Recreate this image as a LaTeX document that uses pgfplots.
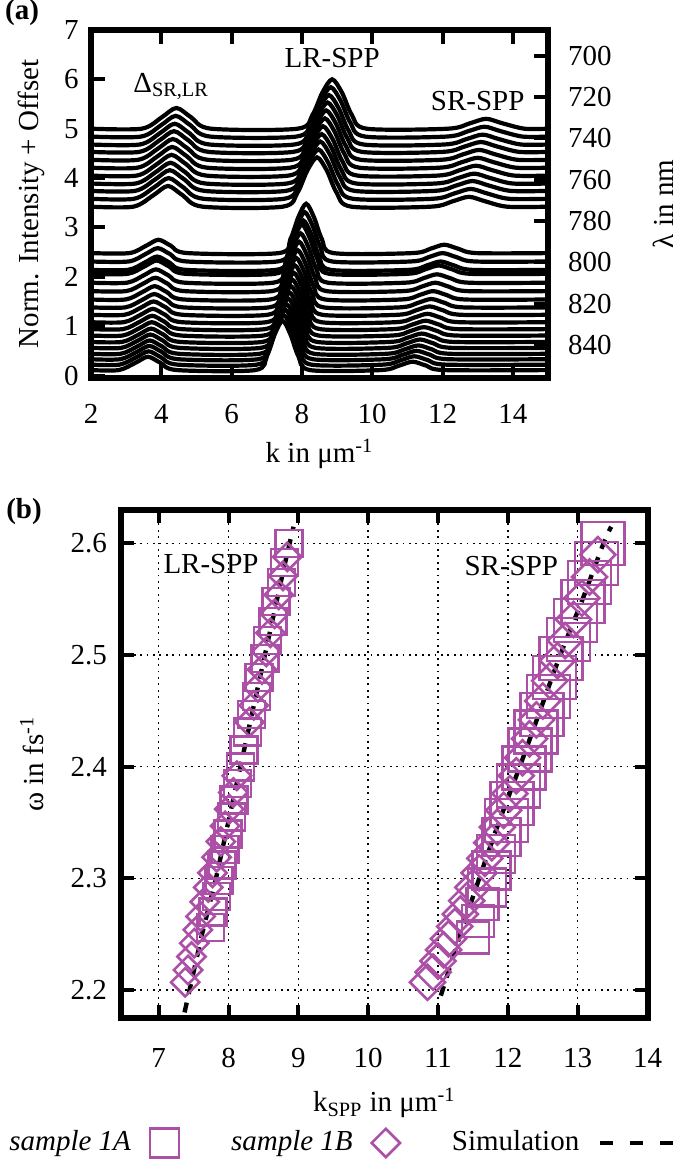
\documentclass[border=0pt]{standalone}
\usepackage{pgfplots}
\pgfplotsset{compat=1.18}
\usepackage{fontspec}
\setmainfont{Liberation Serif}
\definecolor{mpurple}{RGB}{172,79,166}
\pgfplotsset{
  curve/.style={black, line width=2.1pt, smooth},
  simlegend/.style={legend image code/.code={\draw[##1] (0pt,0pt) -- (36.5pt,0pt);}},
  markleg/.style={legend image code/.code={\draw[##1] plot coordinates {(0pt,0pt)};}},
}
\begin{document}
\fontsize{14.5}{17}\selectfont
\begin{tikzpicture}[font=\fontsize{14.5}{17}\selectfont]
\path[use as bounding box] (0,0) rectangle (342.5pt,579.5pt);
\node[font=\fontsize{14.5}{17}\selectfont\bfseries] at (11pt,573pt) {(a)};
\node[font=\fontsize{14.5}{17}\selectfont\bfseries] at (12pt,323.5pt) {(b)};
% ---------------- panel (a) ----------------
\begin{axis}[
  at={(45.5pt,390.5pt)}, anchor=south west,
  scale only axis, width=228.5pt, height=174pt,
  xmin=2, xmax=15, ymin=-0.05, ymax=7,
  axis on top,
  axis line style={line width=3pt},
  xtick={2,4,...,14}, ytick={0,1,...,7},
  xtick pos=both, ytick pos=left,
  tick align=inside, major tick length=7pt,
  tick style={black, line width=2pt},
  /pgf/number format/assume math mode=true,
  xticklabel shift=8pt, yticklabel shift=1.2pt,
  xlabel={k in μm\textsuperscript{-1}},
  ylabel={Norm. Intensity + Offset},
  every axis x label/.style={at={(axis description cs:0.5,0)}, anchor=center, yshift=-38pt},
  every axis y label/.style={at={(axis description cs:0,0.5)}, xshift=-30pt, rotate=90, anchor=center},
]
% upper group
\addplot[curve] coordinates {(2,5.00) (3.44,5.00) (4.01,5.23) (4.43,5.42) (4.85,5.23) (5.42,5.00) (7.88,5.00) (8.30,5.28) (8.58,5.73) (8.86,6.00) (9.14,5.73) (9.42,5.28) (9.84,5.00) (12.15,5.00) (12.78,5.11) (13.24,5.20) (13.70,5.11) (14.33,5.00) (15,5.00)};
\addplot[curve] coordinates {(2,4.84) (3.42,4.84) (3.99,5.07) (4.41,5.26) (4.83,5.07) (5.40,4.84) (7.84,4.84) (8.26,5.12) (8.54,5.57) (8.82,5.84) (9.10,5.57) (9.38,5.12) (9.80,4.84) (12.10,4.84) (12.73,4.95) (13.19,5.04) (13.65,4.95) (14.28,4.84) (15,4.84)};
\addplot[curve] coordinates {(2,4.68) (3.39,4.68) (3.96,4.91) (4.38,5.10) (4.80,4.91) (5.37,4.68) (7.79,4.68) (8.21,4.96) (8.49,5.41) (8.77,5.68) (9.05,5.41) (9.33,4.96) (9.75,4.68) (12.05,4.68) (12.68,4.79) (13.14,4.88) (13.60,4.79) (14.23,4.68) (15,4.68)};
\addplot[curve] coordinates {(2,4.53) (3.37,4.53) (3.94,4.76) (4.36,4.95) (4.78,4.76) (5.35,4.53) (7.75,4.53) (8.17,4.81) (8.45,5.26) (8.73,5.53) (9.01,5.26) (9.29,4.81) (9.71,4.53) (12.00,4.53) (12.63,4.64) (13.09,4.73) (13.55,4.64) (14.18,4.53) (15,4.53)};
\addplot[curve] coordinates {(2,4.37) (3.34,4.37) (3.91,4.60) (4.33,4.79) (4.75,4.60) (5.32,4.37) (7.71,4.37) (8.13,4.65) (8.41,5.10) (8.69,5.37) (8.97,5.10) (9.25,4.65) (9.67,4.37) (11.95,4.37) (12.58,4.48) (13.04,4.57) (13.50,4.48) (14.13,4.37) (15,4.37)};
\addplot[curve] coordinates {(2,4.21) (3.32,4.21) (3.89,4.44) (4.31,4.63) (4.73,4.44) (5.30,4.21) (7.67,4.21) (8.09,4.49) (8.37,4.94) (8.65,5.21) (8.93,4.94) (9.21,4.49) (9.63,4.21) (11.91,4.21) (12.54,4.32) (13.00,4.41) (13.46,4.32) (14.09,4.21) (15,4.21)};
\addplot[curve] coordinates {(2,4.05) (3.30,4.05) (3.87,4.28) (4.29,4.47) (4.71,4.28) (5.28,4.05) (7.62,4.05) (8.04,4.33) (8.32,4.78) (8.60,5.05) (8.88,4.78) (9.16,4.33) (9.58,4.05) (11.86,4.05) (12.49,4.16) (12.95,4.25) (13.41,4.16) (14.04,4.05) (15,4.05)};
\addplot[curve] coordinates {(2,3.89) (3.27,3.89) (3.84,4.12) (4.26,4.31) (4.68,4.12) (5.25,3.89) (7.58,3.89) (8.00,4.17) (8.28,4.62) (8.56,4.89) (8.84,4.62) (9.12,4.17) (9.54,3.89) (11.81,3.89) (12.44,4.00) (12.90,4.09) (13.36,4.00) (13.99,3.89) (15,3.89)};
\addplot[curve] coordinates {(2,3.74) (3.25,3.74) (3.82,3.97) (4.24,4.16) (4.66,3.97) (5.23,3.74) (7.54,3.74) (7.96,4.02) (8.24,4.47) (8.52,4.74) (8.80,4.47) (9.08,4.02) (9.50,3.74) (11.76,3.74) (12.39,3.85) (12.85,3.94) (13.31,3.85) (13.94,3.74) (15,3.74)};
\addplot[curve] coordinates {(2,3.58) (3.22,3.58) (3.79,3.81) (4.21,4.00) (4.63,3.81) (5.20,3.58) (7.49,3.58) (7.91,3.86) (8.19,4.31) (8.47,4.58) (8.75,4.31) (9.03,3.86) (9.45,3.58) (11.71,3.58) (12.34,3.69) (12.80,3.78) (13.26,3.69) (13.89,3.58) (15,3.58)};
\addplot[curve] coordinates {(2,3.42) (3.20,3.42) (3.77,3.65) (4.19,3.84) (4.61,3.65) (5.18,3.42) (7.45,3.42) (7.87,3.70) (8.15,4.15) (8.43,4.42) (8.71,4.15) (8.99,3.70) (9.41,3.42) (11.66,3.42) (12.29,3.53) (12.75,3.62) (13.21,3.53) (13.84,3.42) (15,3.42)};
% lower group
\addplot[curve] coordinates {(2,2.48) (3.09,2.48) (3.57,2.63) (3.92,2.75) (4.27,2.63) (4.75,2.48) (7.34,2.48) (7.67,2.76) (7.90,3.21) (8.12,3.48) (8.34,3.21) (8.57,2.76) (8.90,2.48) (11.14,2.48) (11.66,2.57) (12.05,2.65) (12.44,2.57) (12.96,2.48) (15,2.48)};
\addplot[curve] coordinates {(2,2.31) (3.07,2.31) (3.55,2.46) (3.90,2.58) (4.25,2.46) (4.73,2.31) (7.30,2.31) (7.63,2.59) (7.86,3.04) (8.08,3.31) (8.30,3.04) (8.53,2.59) (8.86,2.31) (11.09,2.31) (11.61,2.40) (12.00,2.48) (12.39,2.40) (12.91,2.31) (15,2.31)};
\addplot[curve] coordinates {(2,2.14) (3.05,2.14) (3.53,2.29) (3.88,2.41) (4.23,2.29) (4.71,2.14) (7.26,2.14) (7.59,2.42) (7.82,2.87) (8.04,3.14) (8.26,2.87) (8.49,2.42) (8.82,2.14) (11.03,2.14) (11.55,2.23) (11.94,2.31) (12.33,2.23) (12.85,2.14) (15,2.14)};
\addplot[curve] coordinates {(2,2.06) (3.04,2.06) (3.52,2.21) (3.87,2.33) (4.22,2.21) (4.70,2.06) (7.22,2.06) (7.55,2.34) (7.78,2.79) (8.00,3.06) (8.22,2.79) (8.45,2.34) (8.78,2.06) (10.98,2.06) (11.50,2.15) (11.89,2.23) (12.28,2.15) (12.80,2.06) (15,2.06)};
\addplot[curve] coordinates {(2,1.88) (3.02,1.88) (3.50,2.03) (3.85,2.15) (4.20,2.03) (4.68,1.88) (7.18,1.88) (7.51,2.16) (7.74,2.61) (7.96,2.88) (8.18,2.61) (8.41,2.16) (8.74,1.88) (10.93,1.88) (11.45,1.97) (11.84,2.05) (12.23,1.97) (12.75,1.88) (15,1.88)};
\addplot[curve] coordinates {(2,1.71) (3.00,1.71) (3.48,1.86) (3.83,1.98) (4.18,1.86) (4.66,1.71) (7.14,1.71) (7.47,1.99) (7.70,2.44) (7.92,2.71) (8.14,2.44) (8.37,1.99) (8.70,1.71) (10.88,1.71) (11.40,1.80) (11.79,1.88) (12.18,1.80) (12.70,1.71) (15,1.71)};
\addplot[curve] coordinates {(2,1.54) (2.98,1.54) (3.46,1.69) (3.81,1.81) (4.16,1.69) (4.64,1.54) (7.10,1.54) (7.43,1.82) (7.66,2.27) (7.88,2.54) (8.10,2.27) (8.33,1.82) (8.66,1.54) (10.82,1.54) (11.34,1.63) (11.73,1.71) (12.12,1.63) (12.64,1.54) (15,1.54)};
\addplot[curve] coordinates {(2,1.38) (2.97,1.38) (3.45,1.53) (3.80,1.65) (4.15,1.53) (4.63,1.38) (7.06,1.38) (7.39,1.66) (7.62,2.11) (7.84,2.38) (8.06,2.11) (8.29,1.66) (8.62,1.38) (10.77,1.38) (11.29,1.47) (11.68,1.55) (12.07,1.47) (12.59,1.38) (15,1.38)};
\addplot[curve] coordinates {(2,1.23) (2.95,1.23) (3.43,1.38) (3.78,1.50) (4.13,1.38) (4.61,1.23) (7.02,1.23) (7.35,1.51) (7.58,1.96) (7.80,2.23) (8.02,1.96) (8.25,1.51) (8.58,1.23) (10.72,1.23) (11.24,1.32) (11.63,1.40) (12.02,1.32) (12.54,1.23) (15,1.23)};
\addplot[curve] coordinates {(2,1.08) (2.93,1.08) (3.41,1.23) (3.76,1.35) (4.11,1.23) (4.59,1.08) (6.99,1.08) (7.32,1.36) (7.55,1.81) (7.77,2.08) (7.99,1.81) (8.22,1.36) (8.55,1.08) (10.66,1.08) (11.18,1.17) (11.57,1.25) (11.96,1.17) (12.48,1.08) (15,1.08)};
\addplot[curve] coordinates {(2,0.94) (2.91,0.94) (3.39,1.09) (3.74,1.21) (4.09,1.09) (4.57,0.94) (6.95,0.94) (7.28,1.22) (7.51,1.67) (7.73,1.94) (7.95,1.67) (8.18,1.22) (8.51,0.94) (10.61,0.94) (11.13,1.03) (11.52,1.11) (11.91,1.03) (12.43,0.94) (15,0.94)};
\addplot[curve] coordinates {(2,0.81) (2.90,0.81) (3.38,0.96) (3.73,1.08) (4.08,0.96) (4.56,0.81) (6.91,0.81) (7.24,1.09) (7.47,1.54) (7.69,1.81) (7.91,1.54) (8.14,1.09) (8.47,0.81) (10.56,0.81) (11.08,0.90) (11.47,0.98) (11.86,0.90) (12.38,0.81) (15,0.81)};
\addplot[curve] coordinates {(2,0.68) (2.88,0.68) (3.36,0.83) (3.71,0.95) (4.06,0.83) (4.54,0.68) (6.87,0.68) (7.20,0.96) (7.43,1.41) (7.65,1.68) (7.87,1.41) (8.10,0.96) (8.43,0.68) (10.50,0.68) (11.02,0.77) (11.41,0.85) (11.80,0.77) (12.32,0.68) (15,0.68)};
\addplot[curve] coordinates {(2,0.56) (2.86,0.56) (3.34,0.71) (3.69,0.83) (4.04,0.71) (4.52,0.56) (6.83,0.56) (7.16,0.84) (7.39,1.29) (7.61,1.56) (7.83,1.29) (8.06,0.84) (8.39,0.56) (10.45,0.56) (10.97,0.65) (11.36,0.73) (11.75,0.65) (12.27,0.56) (15,0.56)};
\addplot[curve] coordinates {(2,0.44) (2.84,0.44) (3.32,0.59) (3.67,0.71) (4.02,0.59) (4.50,0.44) (6.79,0.44) (7.12,0.72) (7.35,1.17) (7.57,1.44) (7.79,1.17) (8.02,0.72) (8.35,0.44) (10.40,0.44) (10.92,0.53) (11.31,0.61) (11.70,0.53) (12.22,0.44) (15,0.44)};
\addplot[curve] coordinates {(2,0.33) (2.83,0.33) (3.31,0.48) (3.66,0.60) (4.01,0.48) (4.49,0.33) (6.75,0.33) (7.08,0.61) (7.31,1.06) (7.53,1.33) (7.75,1.06) (7.98,0.61) (8.31,0.33) (10.35,0.33) (10.87,0.42) (11.26,0.50) (11.65,0.42) (12.17,0.33) (15,0.33)};
\addplot[curve] coordinates {(2,0.22) (2.81,0.22) (3.29,0.37) (3.64,0.49) (3.99,0.37) (4.47,0.22) (6.71,0.22) (7.04,0.50) (7.27,0.95) (7.49,1.22) (7.71,0.95) (7.94,0.50) (8.27,0.22) (10.29,0.22) (10.81,0.31) (11.20,0.39) (11.59,0.31) (12.11,0.22) (15,0.22)};
\addplot[curve] coordinates {(2,0.11) (2.79,0.11) (3.27,0.26) (3.62,0.38) (3.97,0.26) (4.45,0.11) (6.67,0.11) (7.00,0.39) (7.23,0.84) (7.45,1.11) (7.67,0.84) (7.90,0.39) (8.23,0.11) (10.24,0.11) (10.76,0.20) (11.15,0.28) (11.54,0.20) (12.06,0.11) (15,0.11)};
\node at (axis cs:4.28,5.85) {Δ\textsubscript{SR,LR}};
\node at (axis cs:8.86,6.43) {LR-SPP};
\node at (axis cs:13.0,5.56) {SR-SPP};
\end{axis}
% right wavelength axis of panel (a)
\begin{axis}[
  at={(45.5pt,390.5pt)}, anchor=south west,
  scale only axis, width=228.5pt, height=174pt,
  xmin=2, xmax=15, ymin=687.5, ymax=856, y dir=reverse,
  hide x axis, axis y line*=right,
  axis line style={line width=3pt, -},
  ytick={700,720,...,840},
  tick align=inside, major tick length=7pt,
  tick style={black, line width=2pt},
  /pgf/number format/assume math mode=true,
  yticklabel shift=5pt,
  ylabel={λ in nm},
  every axis y label/.style={at={(axis description cs:1,0.5)}, xshift=57.5pt, rotate=90, anchor=center},
]
\addplot[draw=none] coordinates {(2,700) (15,840)};
\end{axis}
% ---------------- panel (b) ----------------
\begin{axis}[
  at={(60.5pt,70.5pt)}, anchor=south west,
  scale only axis, width=263.25pt, height=254pt,
  xmin=6.46, xmax=14, ymin=2.175, ymax=2.63,
  axis line style={line width=3pt},
  xtick={7,8,...,14}, ytick={2.2,2.3,2.4,2.5,2.6},
  xtick pos=both, ytick pos=both,
  tick align=inside, major tick length=6.5pt,
  tick style={black, line width=2pt},
  grid=major,
  grid style={black, line width=0.7pt, dash pattern=on 0.9pt off 2.3pt},
  /pgf/number format/assume math mode=true,
  yticklabel style={/pgf/number format/fixed, /pgf/number format/precision=1, /pgf/number format/fixed zerofill},
  xticklabel shift=10pt, yticklabel shift=2pt,
  xlabel={k\textsubscript{SPP} in μm\textsuperscript{-1}},
  ylabel={ω in fs\textsuperscript{-1}},
  every axis x label/.style={at={(axis description cs:0.5,0)}, anchor=center, yshift=-42.5pt},
  every axis y label/.style={at={(axis description cs:0,0.5)}, xshift=-44.5pt, rotate=90, anchor=center},
  legend style={at={(0.4207,-0.246)}, anchor=center, draw=none, fill=none,
    legend columns=3, font=\fontsize{14.5}{17}\selectfont,
    inner sep=0pt, nodes={inner sep=0pt},
    /tikz/every odd column/.append style={column sep=9.5pt},
    /tikz/every even column/.append style={column sep=26pt}},
  legend plot pos=right,
]
\addlegendimage{markleg, only marks, mark=square, mark size=7.25pt, mark options={draw=mpurple, line width=1.3pt}}
\addlegendentry{\textit{sample 1A}}
\addlegendimage{markleg, only marks, mark=square, mark size=5pt, mark options={draw=mpurple, line width=1.3pt, rotate=45}}
\addlegendentry{\textit{sample 1B}}
\addlegendimage{simlegend, black, line width=2.2pt, dash pattern=on 6.5pt off 8.5pt}
\addlegendentry{Simulation}
% sample 1A, LR
\addplot[forget plot, only marks, mark=square, mark size=6.75pt, mark options={draw=mpurple, line width=1.3pt}] coordinates {
(8.87,2.600) (8.80,2.583) (8.76,2.565) (8.68,2.548) (8.64,2.530) (8.56,2.513) (8.52,2.497) (8.44,2.480)
(8.40,2.463) (8.33,2.447) (8.27,2.431) (8.22,2.415) (8.17,2.400) (8.13,2.385) (8.08,2.370) (8.04,2.355)
(7.99,2.340) (7.95,2.326) (7.91,2.312) (7.86,2.298) (7.83,2.284) (7.78,2.270) (7.74,2.256)};
% sample 1B, LR
\addplot[forget plot, only marks, mark=square, mark size=5pt, mark options={draw=mpurple, line width=1.3pt, rotate=45}] coordinates {
(7.38,2.207) (7.42,2.218) (7.47,2.230) (7.51,2.242) (7.56,2.254) (7.60,2.266) (7.66,2.279) (7.71,2.292)
(7.77,2.305) (7.83,2.319) (7.89,2.333) (7.95,2.347) (8.01,2.362) (8.07,2.377) (8.12,2.392) (8.30,2.440)
(8.36,2.455) (8.42,2.471) (8.48,2.487) (8.54,2.503) (8.60,2.520) (8.66,2.537) (8.72,2.554) (8.78,2.571) (8.84,2.588)};
% sample 1A, SR
\addplot[forget plot, only marks, mark=square, mark size=8pt, mark options={draw=mpurple, line width=1.3pt}] coordinates {
(11.50,2.247) (11.57,2.262) (11.64,2.277)};
\addplot[forget plot, only marks, mark=square, mark size=9.5pt, mark options={draw=mpurple, line width=1.3pt}] coordinates {
(11.70,2.292) (11.77,2.307) (11.83,2.322) (11.91,2.337)};
\addplot[forget plot, only marks, mark=square, mark size=10.75pt, mark options={draw=mpurple, line width=1.3pt}] coordinates {
(11.98,2.352) (12.06,2.367) (12.15,2.383) (12.23,2.399) (12.32,2.415) (12.40,2.431) (12.49,2.447)
(12.58,2.463) (12.67,2.480) (12.76,2.497) (12.87,2.514) (12.97,2.531) (13.08,2.548) (13.17,2.565)
(13.27,2.582) (13.36,2.600)};
% sample 1B, SR
\addplot[forget plot, only marks, mark=square, mark size=6.2pt, mark options={draw=mpurple, line width=1.3pt, rotate=45}] coordinates {
(10.85,2.207) (10.93,2.216) (11.00,2.226) (11.08,2.236) (11.15,2.246) (11.24,2.257) (11.32,2.268)
(11.41,2.280) (11.50,2.292) (11.59,2.305) (11.67,2.318) (11.77,2.332) (11.85,2.346) (11.94,2.361)
(12.03,2.376) (12.12,2.392) (12.21,2.408) (12.31,2.425) (12.41,2.442) (12.50,2.459) (12.60,2.477)
(12.71,2.495) (12.82,2.513) (12.94,2.532) (13.06,2.551) (13.17,2.570) (13.29,2.590)};
% simulation
\addplot[forget plot, black, line width=2.2pt, dash pattern=on 5pt off 4.5pt] coordinates {
(7.37,2.180) (7.62,2.250) (7.82,2.300) (8.17,2.400) (8.52,2.500) (8.80,2.580) (8.93,2.615)};
\addplot[forget plot, black, line width=2.2pt, dash pattern=on 5pt off 4.5pt, smooth] coordinates {
(11.04,2.195) (11.32,2.250) (11.59,2.300) (11.87,2.350) (12.17,2.400) (12.46,2.450) (12.75,2.500)
(13.07,2.550) (13.37,2.600) (13.48,2.615)};
\node at (axis cs:7.75,2.5815) {LR-SPP};
\node at (axis cs:12.05,2.58) {SR-SPP};
\end{axis}
\end{tikzpicture}
\end{document}
